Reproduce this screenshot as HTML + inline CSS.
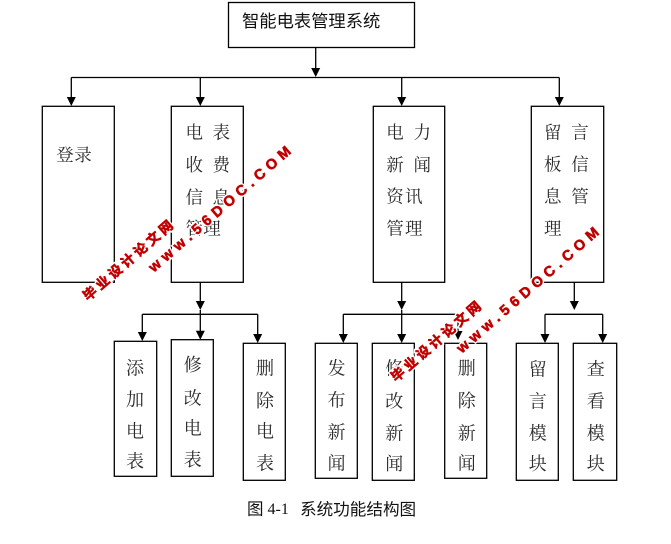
<!DOCTYPE html>
<html><head><meta charset="utf-8"><style>
html,body{margin:0;padding:0;background:#fff;}
svg{display:block;}
.t{font-family:"Liberation Serif","Noto Serif CJK SC",serif;fill:#2a2a2a;text-anchor:middle;dominant-baseline:central;}
.s{font-size:17.5px;}
.b{font-size:18px;}
.halo{fill:#fff;stroke:#fff;stroke-width:3.4;font-weight:bold;}
.wm{fill:#c00000;stroke:#c00000;stroke-width:0.6;font-weight:bold;}
.cn{font-family:'Liberation Sans','Noto Sans CJK SC',sans-serif;font-size:13.5px;}
.en{font-family:'Liberation Sans',sans-serif;font-size:14.5px;}
</style></head><body>
<svg width="671" height="544" viewBox="0 0 671 544" xmlns="http://www.w3.org/2000/svg">
<g fill="none" stroke="#000" stroke-width="1.3">
<rect x="228.5" y="2.5" width="186" height="45"/>
<rect x="42.3" y="106.3" width="72" height="176"/>
<rect x="171.3" y="106.3" width="72" height="176"/>
<rect x="373.3" y="106.3" width="71.4" height="176"/>
<rect x="531.3" y="106.3" width="72.4" height="176"/>
<rect x="114.3" y="341.3" width="42.4" height="135"/>
<rect x="171.3" y="339.7" width="42" height="136.6"/>
<rect x="243.3" y="343.3" width="42" height="137"/>
<rect x="315.3" y="343.3" width="42" height="135"/>
<rect x="372.3" y="343.3" width="42" height="137"/>
<rect x="444.7" y="343.3" width="42" height="135"/>
<rect x="516.3" y="343.3" width="42" height="137"/>
<rect x="573.3" y="343.3" width="43.4" height="137"/>
<path d="M315.7 47.3V70M71.3 77.5H559.3M71.3 77.5V99M200.3 77.5V99M401.7 77.5V99M559.3 77.5V99"/>
<path d="M200.3 282.3V303M200.3 310V333M142.3 314.3H257.7M142.3 314.3V334M257.7 314.3V336"/>
<path d="M401.7 282.3V303M401.7 310V336M343.3 314.3H458M343.3 314.3V336M458 314.3V333"/>
<path d="M574.3 282.3V303M545 314.3H602.7M545 314.3V336M602.7 314.3V336"/>
</g>
<g fill="#000">
<polygon points="315.7,77 311.2,68 320.2,68"/>
<polygon points="71.3,106 66.8,97 75.8,97"/>
<polygon points="200.3,106 195.8,97 204.8,97"/>
<polygon points="401.7,106 397.2,97 406.2,97"/>
<polygon points="559.3,106 554.8,97 563.8,97"/>
<polygon points="200.3,310 195.8,301 204.8,301"/>
<polygon points="142.3,341 137.8,332 146.8,332"/>
<polygon points="200.3,339.7 195.8,330.7 204.8,330.7"/>
<polygon points="257.7,343 253.2,334 262.2,334"/>
<polygon points="401.7,310 397.2,301 406.2,301"/>
<polygon points="343.3,343 338.8,334 347.8,334"/>
<polygon points="401.7,343 397.2,334 406.2,334"/>
<polygon points="458,340 453.5,331 462.5,331"/>
<polygon points="574.3,310 569.8,301 578.8,301"/>
<polygon points="545,343 540.5,334 549.5,334"/>
<polygon points="602.7,343 598.2,334 607.2,334"/>
</g>
<text x="242" y="21" style="font-family:'Liberation Sans','Noto Sans CJK SC',sans-serif;font-size:17.3px;fill:#111;dominant-baseline:central;">智能电表管理系统</text>
<g class="t s">
<text x="65" y="155">登</text><text x="83" y="155">录</text>
<text x="194.3" y="132.3">电</text><text x="221.3" y="132.3">表</text>
<text x="194.3" y="165">收</text><text x="221.3" y="165">费</text>
<text x="194.3" y="197.3">信</text><text x="221.3" y="197.3">息</text>
<text x="194.3" y="228.3">管</text><text x="212" y="228.3">理</text>
<text x="395" y="132.3">电</text><text x="422.3" y="132.3">力</text>
<text x="395" y="165">新</text><text x="422.3" y="165">闻</text>
<text x="395" y="196.7">资</text><text x="413.7" y="196.7">讯</text>
<text x="395" y="228.3">管</text><text x="413.7" y="228.3">理</text>
<text x="552.7" y="132.3">留</text><text x="580" y="132.3">言</text>
<text x="552.7" y="164.5">板</text><text x="580" y="164.5">信</text>
<text x="552.7" y="196.3">息</text><text x="580" y="196.3">管</text>
<text x="552.7" y="228.3">理</text>
</g>
<g class="t b">
<text x="135" y="368.3">添</text><text x="135" y="400">加</text><text x="135" y="431.7">电</text><text x="135" y="461.7">表</text>
<text x="192.7" y="365">修</text><text x="192.7" y="398.3">改</text><text x="192.7" y="428.3">电</text><text x="192.7" y="460">表</text>
<text x="265" y="368.3">删</text><text x="265" y="401">除</text><text x="265" y="431.7">电</text><text x="265" y="463.3">表</text>
<text x="336.5" y="368.3">发</text><text x="336.5" y="400.5">布</text><text x="336.5" y="432.5">新</text><text x="336.5" y="463.3">闻</text>
<text x="394.3" y="368.3">修</text><text x="394.3" y="401.7">改</text><text x="394.3" y="433.3">新</text><text x="394.3" y="464">闻</text>
<text x="466.7" y="368.3">删</text><text x="466.7" y="401">除</text><text x="466.7" y="433.3">新</text><text x="466.7" y="463.3">闻</text>
<text x="537.7" y="369.3">留</text><text x="537.7" y="401.7">言</text><text x="537.7" y="433.3">模</text><text x="537.7" y="464">块</text>
<text x="595.7" y="369.3">查</text><text x="595.7" y="401.7">看</text><text x="595.7" y="433.3">模</text><text x="595.7" y="464">块</text>
</g>
<g style="dominant-baseline:central;fill:#111;">
<text x="247" y="509.3" style="font-family:'Liberation Sans','Noto Sans CJK SC',sans-serif;font-size:16.5px;">图</text>
<text x="267.5" y="509.3" style="font-family:'Liberation Serif',serif;font-size:16px;">4-1</text>
<text x="300" y="509.3" style="font-family:'Liberation Sans','Noto Sans CJK SC',sans-serif;font-size:16.6px;">系统功能结构图</text>
</g>
<g>
<text class="halo cn" transform="translate(88,301.5) rotate(-41)" textLength="114" lengthAdjust="spacing">毕业设计论文网</text>
<text class="halo en" transform="translate(153.8,272.8) rotate(-41)" textLength="183" lengthAdjust="spacing">www.56DOC.COM</text>
<text class="wm cn" transform="translate(88,301.5) rotate(-41)" textLength="114" lengthAdjust="spacing">毕业设计论文网</text>
<text class="wm en" transform="translate(153.8,272.8) rotate(-41)" textLength="183" lengthAdjust="spacing">www.56DOC.COM</text>
</g>
<g transform="translate(308,81)">
<text class="halo cn" transform="translate(88,301.5) rotate(-41)" textLength="114" lengthAdjust="spacing">毕业设计论文网</text>
<text class="halo en" transform="translate(153.8,272.8) rotate(-41)" textLength="183" lengthAdjust="spacing">www.56DOC.COM</text>
<text class="wm cn" transform="translate(88,301.5) rotate(-41)" textLength="114" lengthAdjust="spacing">毕业设计论文网</text>
<text class="wm en" transform="translate(153.8,272.8) rotate(-41)" textLength="183" lengthAdjust="spacing">www.56DOC.COM</text>
</g>
</svg>
</body></html>
